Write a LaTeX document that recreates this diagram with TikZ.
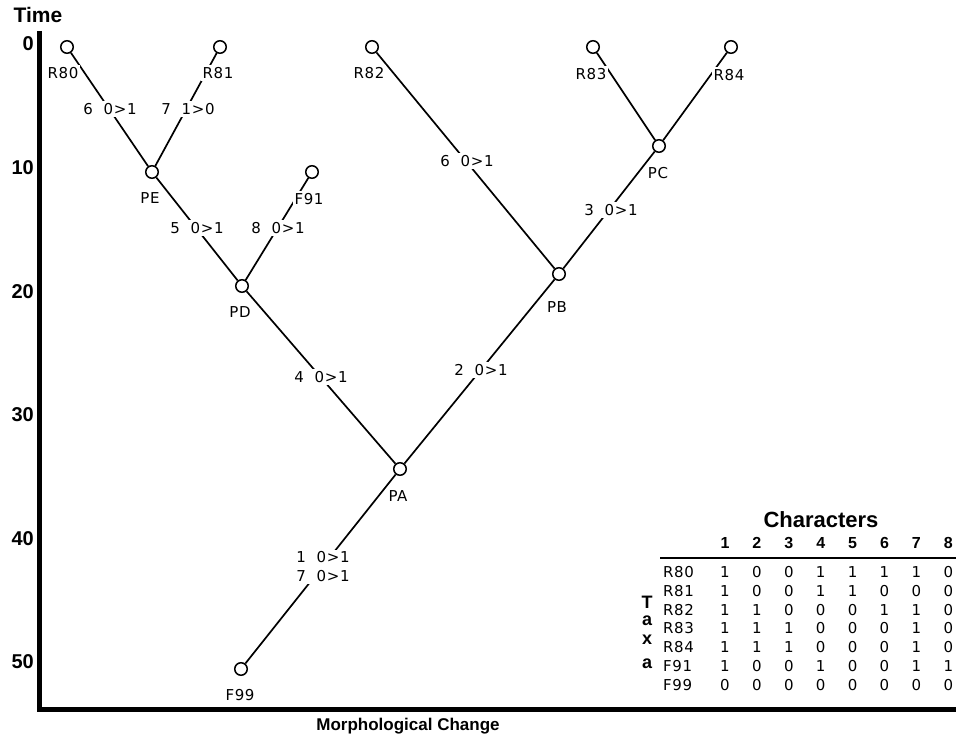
\documentclass[tikz,border=0pt]{standalone}
\usepackage{fontspec}
\setmainfont{DejaVu Sans}[LetterSpace=4]
\newfontfamily\headfont{Liberation Sans}
\begin{document}
\begin{tikzpicture}[x=1pt,y=-1pt,font=\fontsize{15}{17}\selectfont,
  tip/.style={circle,draw,fill=white,minimum size=12.5pt,inner sep=0pt,line width=1.5pt},
  lab/.style={fill=white,inner sep=2pt},
  head/.style={font=\headfont\bfseries\fontsize{#1}{#1}\selectfont}]
  \useasboundingbox (0,0) rectangle (956,741);
  \node[head=21] (time) at (38,15) {Time};
  \draw[line width=5.5pt] (39.5,31) -- (39.5,709.5) -- (956,709.5);
  \foreach \t in {0,10,...,50}
    \node[head=20,anchor=east,inner sep=0pt] (tick\t) at (34,{44+12.36*\t}) {\t};
  \node[head=17] (xlabel) at (408,726) {Morphological Change};
  \node[tip] (R80) at (67,47) {};
  \node[tip] (R81) at (220,47) {};
  \node[tip] (R82) at (372,47) {};
  \node[tip] (R83) at (593,47) {};
  \node[tip] (R84) at (731,47) {};
  \node[tip] (F91) at (312,172) {};
  \node[tip] (PE) at (152,172) {};
  \node[tip] (PD) at (242,286) {};
  \node[tip] (PC) at (659,146) {};
  \node[tip] (PB) at (559,274) {};
  \node[tip] (PA) at (400,469) {};
  \node[tip] (F99) at (241,669) {};
  \foreach \a/\b in {R80/PE,R81/PE,PE/PD,F91/PD,PD/PA,R82/PB,R83/PC,R84/PC,PC/PB,PB/PA,PA/F99}
    \draw[line width=1.7pt] (\a) -- (\b);
  \node[lab] (lR80) at (63,73) {R80};
  \node[lab] (lR81) at (218,73) {R81};
  \node[lab] (lR82) at (369,73) {R82};
  \node[lab] (lR83) at (591,74) {R83};
  \node[lab] (lR84) at (729,75) {R84};
  \node[lab] (lF91) at (309,199) {F91};
  \node[lab] (lPE) at (150,198) {PE};
  \node[lab] (lPD) at (240,312) {PD};
  \node[lab] (lPC) at (658,173) {PC};
  \node[lab] (lPB) at (557,307) {PB};
  \node[lab] (lPA) at (398,496) {PA};
  \node[lab] (lF99) at (240,695) {F99};
  \node[lab] (c6a) at (110,109) {6~~0>1};
  \node[lab] (c7) at (188,109) {7~~1>0};
  \node[lab] (c5) at (197,228) {5~~0>1};
  \node[lab] (c8) at (278,228) {8~~0>1};
  \node[lab] (c4) at (321,377) {4~~0>1};
  \node[lab] (c6b) at (467,161) {6~~0>1};
  \node[lab] (c3) at (611,210) {3~~0>1};
  \node[lab] (c2) at (481,370) {2~~0>1};
  \node[lab,align=center] (c17) at (323,567) {1~~0>1\\[2pt]7~~0>1};
  \node[head=22] (chars) at (821,520) {Characters};
  \foreach \c in {1,...,8}
    \node[head=16] (col\c) at ({725+31.9*(\c-1)},543) {\c};
  \draw[line width=1.5pt] (660,558) -- (956,558);
  \foreach \n/\bits [count=\r from 0] in {R80/{1,0,0,1,1,1,1,0},R81/{1,0,0,1,1,0,0,0},
      R82/{1,1,0,0,0,1,1,0},R83/{1,1,1,0,0,0,1,0},R84/{1,1,1,0,0,0,1,0},
      F91/{1,0,0,1,0,0,1,1},F99/{0,0,0,0,0,0,0,0}}{
    \node[anchor=west,inner sep=0pt] (t\n) at (663,{572+18.8*\r}) {\n};
    \foreach \b [count=\c] in \bits
      \node[inner sep=0pt] (t\n-\c) at ({725+31.9*(\c-1)},{572+18.8*\r}) {\b};
  }
  \foreach \l/\y [count=\i] in {T/602,a/621,x/640,a/664}
    \node[head=18] (taxa\i) at (647,\y) {\l};
\end{tikzpicture}
\end{document}
